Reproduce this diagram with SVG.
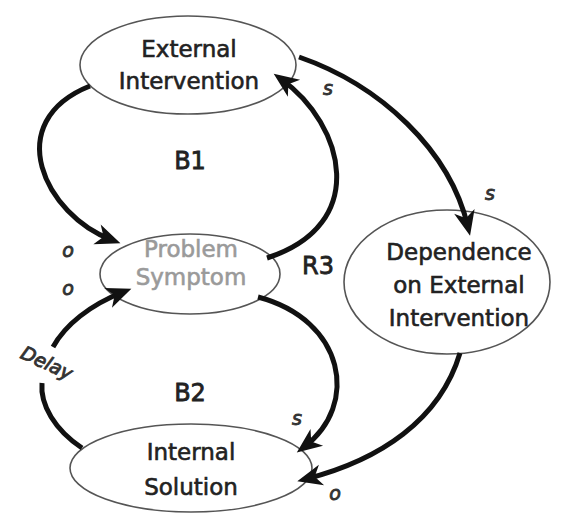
<svg xmlns="http://www.w3.org/2000/svg" width="563" height="514" viewBox="0 0 563 514">
<style>
.node ellipse{fill:#fff;stroke:#555;stroke-width:1.6}
.lbl{font-family:"DejaVu Sans",sans-serif;font-size:23px;fill:#222;stroke:#222;stroke-width:0.6;text-anchor:middle}
.gray{fill:#9a9a9a;stroke:#9a9a9a}
.loop{font-family:"DejaVu Sans",sans-serif;font-size:24px;fill:#222;stroke:#222;stroke-width:0.8;text-anchor:middle}
.pol{font-family:"DejaVu Sans",sans-serif;font-size:19px;font-style:italic;fill:#333;stroke:#333;stroke-width:0.9;text-anchor:middle}
.link{fill:none;stroke:#111;stroke-width:5;marker-end:url(#ah)}
.plain{fill:none;stroke:#111;stroke-width:5}
</style>
<defs>
<marker id="ah" markerUnits="userSpaceOnUse" viewBox="-22 -12 34 24" markerWidth="34" markerHeight="24" refX="0" refY="0" orient="auto">
<path d="M9,0 L-16,-10.5 L-9,0 L-16,10.5 Z" fill="#111"/>
</marker>
</defs>
<rect width="563" height="514" fill="#fff"/>

<g id="external-intervention" class="node">
<ellipse cx="188" cy="65" rx="108" ry="49"/>
<text class="lbl" x="189" y="57">External</text>
<text class="lbl" x="189" y="89">Intervention</text>
</g>
<g id="problem-symptom" class="node">
<ellipse cx="190" cy="274" rx="90" ry="40"/>
<text class="lbl gray" x="191" y="257">Problem</text>
<text class="lbl gray" x="191" y="285">Symptom</text>
</g>
<g id="dependence" class="node">
<ellipse cx="447" cy="282" rx="103" ry="72"/>
<text class="lbl" x="459" y="260">Dependence</text>
<text class="lbl" x="459" y="293">on External</text>
<text class="lbl" x="459" y="326">Intervention</text>
</g>
<g id="internal-solution" class="node">
<ellipse cx="191" cy="468" rx="121" ry="44"/>
<text class="lbl" x="191" y="460">Internal</text>
<text class="lbl" x="191" y="495">Solution</text>
</g>

<g id="connectors">
<path class="link" d="M90,86 C0,122 45,215 112,240"/>
<path class="link" d="M267,258 C370,225 345,125 281,79"/>
<path class="link" d="M299,57 C380,85 450,150 468,227"/>
<path class="link" d="M258,297 C345,320 360,405 304,447"/>
<path class="plain" d="M82,448 C55,430 40,405 42,383"/>
<path class="link" d="M53,347 C65,325 90,305 123,292"/>
<path class="link" d="M460,353 C440,420 380,460 306,479"/>
</g>

<g id="labels">
<text class="loop" x="190" y="169">B1</text>
<text class="loop" x="190" y="401">B2</text>
<text class="loop" x="318" y="274">R3</text>
<text class="pol" x="328" y="95">s</text>
<text class="pol" x="490" y="200">s</text>
<text class="pol" x="297" y="425">s</text>
<text class="pol" x="68" y="257">o</text>
<text class="pol" x="68" y="295">o</text>
<text class="pol" x="335" y="500">o</text>
<text class="pol" x="0" y="0" transform="translate(44,369) rotate(25)">Delay</text>
</g>
</svg>
